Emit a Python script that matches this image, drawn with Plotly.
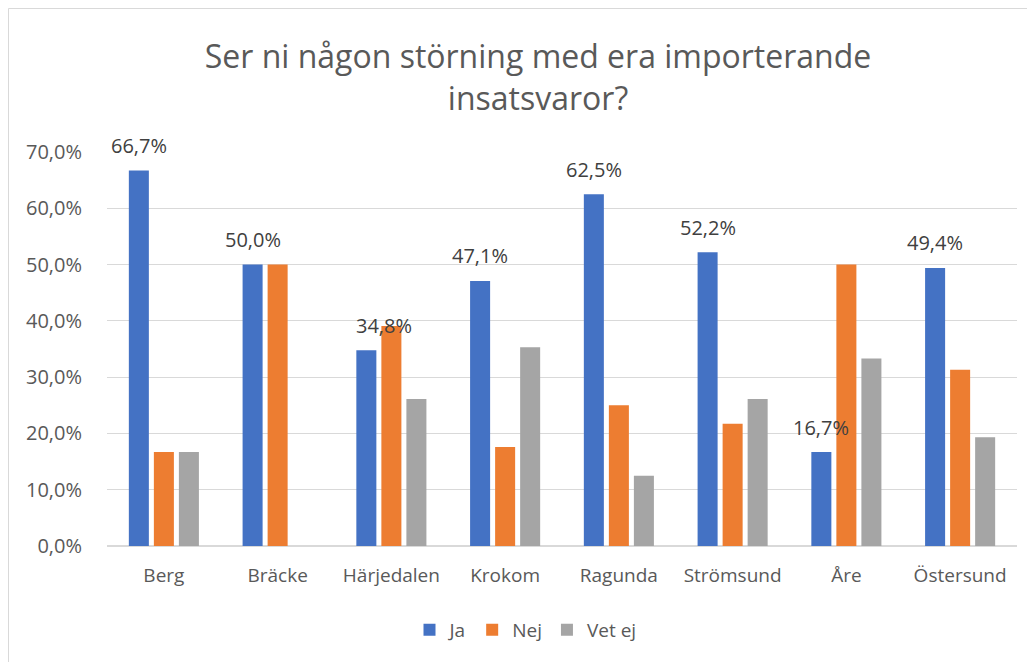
import plotly.graph_objects as go

categories = ["Berg", "Bräcke", "Härjedalen", "Krokom", "Ragunda", "Strömsund", "Åre", "Östersund"]
ja = [66.7, 50.0, 34.8, 47.1, 62.5, 52.2, 16.7, 49.4]
nej = [16.7, 50.0, 39.1, 17.6, 25.0, 21.7, 50.0, 31.3]
vet_ej = [16.7, 0.0, 26.1, 35.3, 12.5, 26.1, 33.3, 19.3]
ja_label_xshift = [0, 0, 18, 0, 0, 0, 0, 0]

W, H = 1035, 662
L, R, T, B = 99, 26, 144, 124
pw, ph = W - L - R, H - T - B

colors = {"Ja": "#4472C4", "Nej": "#ED7D31", "Vet ej": "#A5A5A5"}
font_fam = "Open Sans, Liberation Sans, sans-serif"

fig = go.Figure()
for name, vals in [("Ja", ja), ("Nej", nej), ("Vet ej", vet_ej)]:
    fig.add_trace(go.Bar(x=categories, y=vals, name=name, marker_color=colors[name],
                         marker_line_width=0))

ann = []
cat_w = pw / len(categories)
bargap = 0.34
slot = cat_w * (1 - bargap) / 3
for c, v, xs in zip(categories, ja, ja_label_xshift):
    ann.append(dict(x=c, y=v, xref="x", yref="y", text=f"{v:.1f}".replace(".", ",") + "%",
                    showarrow=False, xshift=-slot + xs, yshift=25,
                    font=dict(size=20, color="#404040", family=font_fam)))

fig.update_layout(
    width=W, height=H,
    margin=dict(l=L, r=R, t=T, b=B),
    paper_bgcolor="white", plot_bgcolor="white",
    separators=", ",
    title=dict(text="Ser ni någon störning med era importerande<br>insatsvaror?",
               x=530 / W, xanchor="center", y=1 - 60 / H, yanchor="top",
               font=dict(size=32, color="#595959", family=font_fam)),
    barmode="group", bargap=bargap, bargroupgap=0.2,
    legend=dict(orientation="h", x=0.5, xanchor="center", xref="container",
                y=1 - 622 / H, yref="container", yanchor="middle",
                font=dict(size=19, color="#595959", family=font_fam), traceorder="normal"),
    annotations=ann,
    shapes=[dict(type="rect", xref="paper", yref="paper",
                 x0=(0.5 - L) / pw, x1=(W + 20 - L) / pw,
                 y0=-(B + 20) / ph, y1=1 + (T - 0.5) / ph,
                 line=dict(color="#d9d9d9", width=1), layer="below")],
)
fig.update_yaxes(range=[0, 70], dtick=10, tickformat=".1f", ticksuffix="%",
                 gridcolor="#d9d9d9", gridwidth=1, zeroline=True, zerolinecolor="#d9d9d9",
                 tickfont=dict(size=20, color="#595959", family=font_fam), ticks="",
                 showline=False, ticklabelstandoff=24)
fig.update_xaxes(tickfont=dict(size=19, color="#595959", family=font_fam), showline=True,
                 linecolor="#d9d9d9", ticks="", ticklabelstandoff=12)

fig.write_html("out.html")
